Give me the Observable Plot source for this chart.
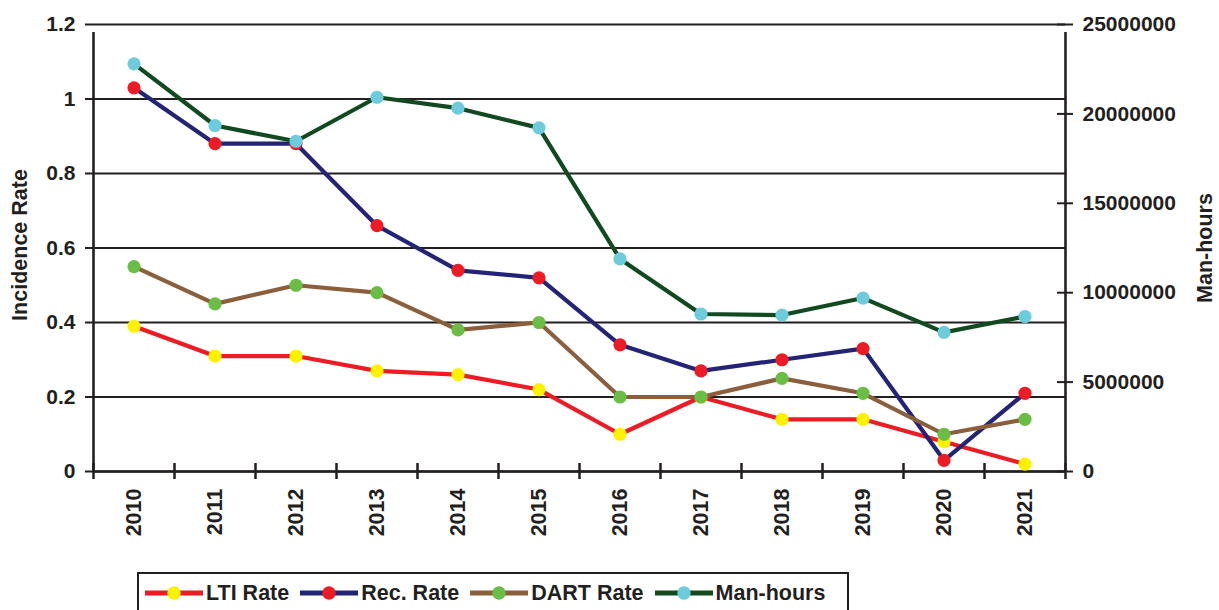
<!DOCTYPE html>
<html>
<head>
<meta charset="utf-8">
<script src="https://cdn.jsdelivr.net/npm/d3@7"></script>
<script src="https://cdn.jsdelivr.net/npm/@observablehq/plot@0.6"></script>
<style>
  body { margin: 0; background: #fff; font-family: "Liberation Sans", Arial, sans-serif; }
  #wrap { position: relative; width: 1219px; height: 610px; overflow: hidden; }
  #legend {
    position: absolute; left: 137px; top: 572px; width: 712px; height: 42px;
    border: 2px solid #231F20; display: flex; align-items: center;
    font-weight: bold; font-size: 21.5px; color: #231F20; box-sizing: border-box;
    padding-left: 6px;
  }
  .item { display: flex; align-items: center; margin-right: 11px; white-space: nowrap; }
  .item svg { margin-right: 3px; }
</style>
</head>
<body>
<div id="wrap">
  <div id="chart"></div>
  <div id="legend"></div>
</div>
<script>
// ---- data ----
const years = [2010, 2011, 2012, 2013, 2014, 2015, 2016, 2017, 2018, 2019, 2020, 2021];
const ltiRate  = [0.39, 0.31, 0.31, 0.27, 0.26, 0.22, 0.10, 0.20, 0.14, 0.14, 0.08, 0.02];
const recRate  = [1.03, 0.88, 0.88, 0.66, 0.54, 0.52, 0.34, 0.27, 0.30, 0.33, 0.03, 0.21];
const dartRate = [0.55, 0.45, 0.50, 0.48, 0.38, 0.40, 0.20, 0.20, 0.25, 0.21, 0.10, 0.14];
const manHours = [22800000, 19350000, 18470000, 20930000, 20320000, 19220000, 11890000, 8810000, 8750000, 9700000, 7780000, 8670000];
const rateTicks = [0, 0.2, 0.4, 0.6, 0.8, 1, 1.2];
const rateTickLabels = ["0", "0.2", "0.4", "0.6", "0.8", "1", "1.2"];
const manHourTicks = [0, 5000000, 10000000, 15000000, 20000000, 25000000];
const seriesNames = ["LTI Rate", "Rec. Rate", "DART Rate", "Man-hours"];
const lineColors = ["#ED1C24", "#232476", "#8B5E3C", "#124A1F"];
const dotColors  = ["#FFF200", "#ED1C24", "#6BBE45", "#6DCBDC"];

const RATE_MAX = 1.2, MH_MAX = 25000000;
const toRate = v => v / MH_MAX * RATE_MAX;

const rows = years.map((year, i) => ({
  year, lti: ltiRate[i], rec: recRate[i], dart: dartRate[i], mh: toRate(manHours[i])
}));
const keys = ["lti", "rec", "dart", "mh"];
const boundaries = d3.range(years.length + 1).map(i => years[0] - 0.5 + i);
const xEnd = boundaries[boundaries.length - 1];
const ink = "#231F20";

const seriesMarks = keys.flatMap((k, s) => [
  Plot.line(rows, {x: "year", y: k, stroke: lineColors[s], strokeWidth: 4.2}),
  Plot.dot(rows, {x: "year", y: k, r: 6.6, fill: dotColors[s], stroke: "none"})
]);

const chart = Plot.plot({
  width: 1219,
  height: 568,
  marginLeft: 93,
  marginRight: 154,
  marginTop: 24,
  marginBottom: 97,
  style: {fontFamily: "'Liberation Sans', Arial, sans-serif", fontSize: "21px", fontWeight: "bold", color: ink, background: "white"},
  x: {domain: [boundaries[0], xEnd], axis: null},
  y: {domain: [0, RATE_MAX]},
  marks: [
    Plot.ruleY(rateTicks, {y: d => d, stroke: ink, strokeWidth: 2, insetLeft: -8}),
    Plot.ruleY(manHourTicks.map(toRate), {y: d => d, x1: xEnd, x2: xEnd, insetLeft: -8, insetRight: -8, stroke: ink, strokeWidth: 2}),
    Plot.ruleX(boundaries, {x: d => d, y1: 0, y2: 0, insetTop: -8, insetBottom: -8, stroke: ink, strokeWidth: 2.5}),
    Plot.ruleX([boundaries[0], xEnd], {x: d => d, y1: 0, y2: RATE_MAX, insetBottom: -8, stroke: ink, strokeWidth: 2.6}),
    Plot.ruleY([0], {y: d => d, stroke: ink, strokeWidth: 2.6}),
    ...seriesMarks,
    Plot.axisY(rateTicks, {anchor: "left", tickSize: 0, tickPadding: 18, fontSize: 21,
      tickFormat: d => rateTickLabels[rateTicks.indexOf(d)], label: null}),
    Plot.axisY(manHourTicks.map(toRate), {anchor: "right", tickSize: 0, tickPadding: 17, fontSize: 21,
      tickFormat: d => String(Math.round(d / RATE_MAX * MH_MAX / 1e6) * 1e6), label: null}),
    Plot.text(years, {x: d => d, y: 0, text: d => String(d), rotate: -90, textAnchor: "end", dy: 17, fill: ink, fontSize: 21.5, fontWeight: "bold"}),
    Plot.text(["Incidence Rate"], {frameAnchor: "left", textAnchor: "middle", text: d => d, rotate: -90, dx: -73, dy: -3, fill: ink, fontSize: 21.5, fontWeight: "bold"}),
    Plot.text(["Man-hours"], {frameAnchor: "right", textAnchor: "middle", text: d => d, rotate: -90, dx: 140, dy: 0, fill: ink, fontSize: 21.5, fontWeight: "bold"})
  ]
});
document.getElementById("chart").appendChild(chart);

// legend
const legend = document.getElementById("legend");
seriesNames.forEach((name, s) => {
  const item = document.createElement("div");
  item.className = "item";
  item.innerHTML = `<svg width="58" height="20"><line x1="0" x2="58" y1="10" y2="10" stroke="${lineColors[s]}" stroke-width="5"/><circle cx="29" cy="10" r="6.7" fill="${dotColors[s]}"/></svg><span>${name}</span>`;
  legend.appendChild(item);
});
</script>
</body>
</html>
